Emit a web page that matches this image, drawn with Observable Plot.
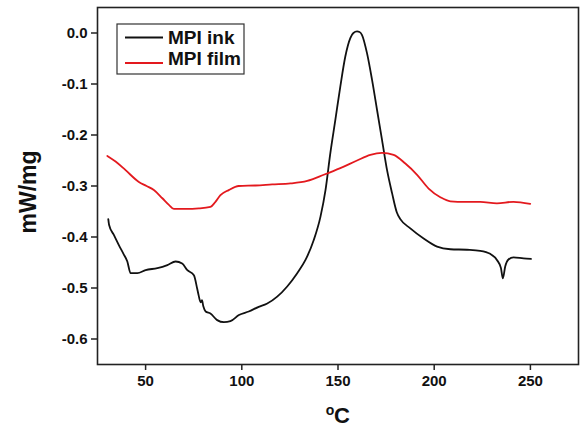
<!DOCTYPE html>
<html>
<head>
<meta charset="utf-8">
<script src="https://cdn.jsdelivr.net/npm/d3@7"></script>
<script src="https://cdn.jsdelivr.net/npm/@observablehq/plot@0.6"></script>
<style>
  html, body { margin: 0; padding: 0; background: #fff; }
  #chart { width: 580px; height: 428px; }
</style>
</head>
<body>
<div id="chart"></div>
<script>
// Temperatures (°C) and heat flow (mW/mg)
const inkT = [30.6, 31, 33.5, 36.1, 38.5, 40.5, 42.2, 45.7, 50, 56.1, 61.3, 65.6, 69, 71.7, 75.1, 76.8, 77.6, 78.6, 79.3, 80, 81.2, 83.7, 87.2, 90.7, 94.1, 98.5, 103.6, 108.8, 113, 118.4, 123.6, 128.8, 133.1, 137.4, 140.9, 143.5, 146, 148.6, 151.2, 153.8, 156.4, 158, 159.9, 161.2, 162.5, 165.1, 167.7, 170.3, 172.9, 175.5, 178.1, 180.6, 182.4, 187.6, 194.5, 201.5, 208.4, 217, 223.9, 229.1, 232.6, 234.7, 235.7, 236.9, 238.6, 241.2, 246.4, 250.3];
const inkV = [-0.365, -0.376, -0.396, -0.416, -0.433, -0.448, -0.471, -0.471, -0.465, -0.461, -0.455, -0.448, -0.452, -0.465, -0.475, -0.501, -0.515, -0.528, -0.524, -0.536, -0.546, -0.550, -0.563, -0.567, -0.565, -0.553, -0.546, -0.537, -0.531, -0.517, -0.497, -0.471, -0.445, -0.406, -0.360, -0.308, -0.236, -0.171, -0.105, -0.046, -0.010, 0.000, 0.003, 0.002, -0.004, -0.040, -0.092, -0.151, -0.210, -0.269, -0.314, -0.352, -0.365, -0.383, -0.403, -0.419, -0.424, -0.425, -0.427, -0.433, -0.445, -0.461, -0.481, -0.458, -0.444, -0.440, -0.442, -0.443];

const filmT = [30.1, 34.4, 39.6, 46.5, 50.5, 54.3, 58.7, 62.1, 64.7, 70.8, 77.7, 83.7, 86.3, 88.9, 93.2, 98.4, 107.1, 115.8, 125.3, 134, 142.6, 151.2, 159.9, 166.8, 172.9, 178.9, 185, 191.1, 197.1, 203.2, 208.4, 216, 223.9, 232.6, 241.2, 249.9];
const filmV = [-0.241, -0.252, -0.269, -0.292, -0.300, -0.308, -0.324, -0.337, -0.345, -0.345, -0.344, -0.341, -0.331, -0.318, -0.308, -0.300, -0.299, -0.297, -0.295, -0.290, -0.278, -0.265, -0.250, -0.239, -0.235, -0.239, -0.256, -0.278, -0.305, -0.322, -0.330, -0.331, -0.331, -0.334, -0.331, -0.335];

const seriesNames = ["MPI ink", "MPI film"];
const seriesColors = ["#111111", "#e3191e"];
const xTicks = [50, 100, 150, 200, 250];
const yTicks = [0, -0.1, -0.2, -0.3, -0.4, -0.5, -0.6];

const ink = inkT.map((t, i) => ({t, v: inkV[i]}));
const film = filmT.map((t, i) => ({t, v: filmV[i]}));

const font = "'Liberation Sans', Arial, sans-serif";

const chart = Plot.plot({
  width: 580,
  height: 428,
  marginLeft: 97,
  marginRight: 2,
  marginTop: 7,
  marginBottom: 64,
  style: {fontFamily: font, background: "#fff", color: "#111"},
  x: {domain: [25, 275]},
  y: {domain: [-0.65, 0.05]},
  marks: [
    Plot.axisX({ticks: xTicks, tickSize: 6, tickPadding: 5, tickFormat: d => String(d), label: null, fontSize: 15, fontWeight: "bold", strokeWidth: 1.5, stroke: "#222"}),
    Plot.axisY({ticks: yTicks, tickSize: 6, tickPadding: 4, tickFormat: d => d.toFixed(1), label: null, fontSize: 15, fontWeight: "bold", strokeWidth: 1.5, stroke: "#222"}),
    Plot.line(ink, {x: "t", y: "v", stroke: seriesColors[0], strokeWidth: 1.8, curve: "monotone-x"}),
    Plot.line(film, {x: "t", y: "v", stroke: seriesColors[1], strokeWidth: 1.8, curve: "monotone-x"}),
    Plot.frame({stroke: "#222", strokeWidth: 1.6}),
    Plot.text(["mW/mg"], {frameAnchor: "left", textAnchor: "middle", lineAnchor: "middle", dx: -69, dy: 6, rotate: -90, fontSize: 23, fontWeight: "bold", fill: "#111"}),
    Plot.text(["C"], {frameAnchor: "bottom", textAnchor: "middle", dx: 4, dy: 51, fontSize: 22, fontWeight: "bold", fill: "#111", lineAnchor: "middle"}),
    Plot.text(["o"], {frameAnchor: "bottom", textAnchor: "middle", dx: -8, dy: 46.5, fontSize: 14, fontWeight: "bold", fill: "#111", lineAnchor: "middle"})
  ]
});

// Legend inside the plot area
const svg = d3.select(chart);
const lg = svg.append("g").attr("font-family", font).attr("text-anchor", "start");
lg.append("rect").attr("x", 117).attr("y", 24).attr("width", 127).attr("height", 50)
  .attr("fill", "#fff").attr("stroke", "#333").attr("stroke-width", 1.2);
const lineY = [37.5, 63];
const textY = [43.5, 65];
seriesNames.forEach((name, i) => {
  lg.append("line").attr("x1", 125).attr("x2", 163).attr("y1", lineY[i]).attr("y2", lineY[i])
    .attr("stroke", seriesColors[i]).attr("stroke-width", 1.8);
  lg.append("text").attr("x", 168).attr("y", textY[i]).text(name)
    .attr("text-anchor", "start")
    .attr("font-size", 19).attr("font-weight", "bold").attr("fill", "#111");
});

document.getElementById("chart").appendChild(chart);
</script>
</body>
</html>
